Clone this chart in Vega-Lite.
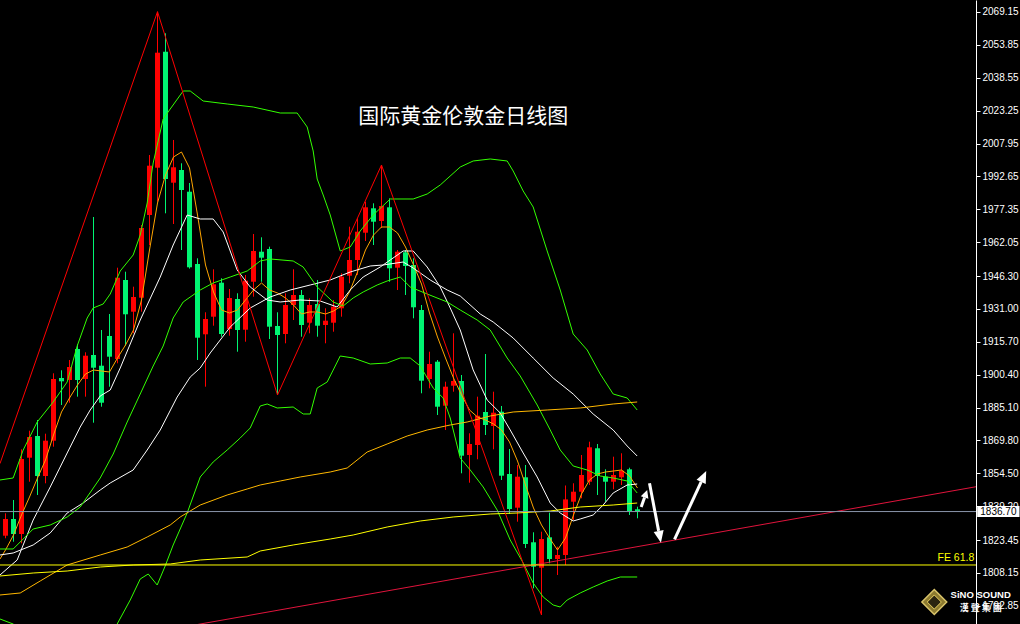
{
"$schema": "https://vega.github.io/schema/vega-lite/v6.json",
"width": 976, "height": 624,
"autosize": "none",
"padding": {"left": 0, "top": 0, "right": 44, "bottom": 0},
"background": "#000000",
"config": {"view": {"stroke": null}, "axis": {"grid": false}, "scale": {"continuousPadding": 0}},
"resolve": {"axis": {"y": "independent", "x": "independent"}},
"datasets": {
"candles": [
{"i":0,"o":1825.47,"h":1835.89,"l":1824.26,"c":1833.24},
{"i":1,"o":1833.24,"h":1842.08,"l":1822.68,"c":1826.26},
{"i":2,"o":1826.26,"h":1865.67,"l":1821.93,"c":1861.16},
{"i":3,"o":1861.76,"h":1874.32,"l":1850.59,"c":1871.39},
{"i":4,"o":1871.86,"h":1879.30,"l":1844.41,"c":1853.25},
{"i":5,"o":1853.25,"h":1872.93,"l":1849.85,"c":1869.67},
{"i":6,"o":1869.67,"h":1901.03,"l":1866.88,"c":1898.38},
{"i":7,"o":1898.85,"h":1902.43,"l":1886.28,"c":1897.31},
{"i":8,"o":1897.92,"h":1907.22,"l":1887.35,"c":1903.96},
{"i":9,"o":1912.34,"h":1914.53,"l":1890.15,"c":1897.92},
{"i":10,"o":1898.38,"h":1910.81,"l":1890.15,"c":1909.22},
{"i":11,"o":1909.55,"h":1973.76,"l":1878.05,"c":1903.64},
{"i":12,"o":1904.57,"h":1921.18,"l":1885.49,"c":1887.35},
{"i":13,"o":1918.39,"h":1928.63,"l":1894.80,"c":1908.76},
{"i":14,"o":1907.69,"h":1950.17,"l":1905.69,"c":1945.52},
{"i":15,"o":1944.45,"h":1948.31,"l":1913.88,"c":1928.49},
{"i":16,"o":1929.70,"h":1941.33,"l":1919.65,"c":1936.54},
{"i":17,"o":1936.21,"h":1970.04,"l":1929.70,"c":1968.64},
{"i":18,"o":1974.69,"h":2002.61,"l":1960.73,"c":1997.63},
{"i":19,"o":1996.70,"h":2069.29,"l":1980.88,"c":2050.21},
{"i":20,"o":2050.67,"h":2059.24,"l":1975.48,"c":1991.44},
{"i":21,"o":1989.72,"h":2009.59,"l":1970.50,"c":1996.89},
{"i":22,"o":1995.63,"h":1998.75,"l":1958.40,"c":1986.32},
{"i":23,"o":1985.53,"h":1989.58,"l":1949.75,"c":1950.36},
{"i":24,"o":1951.89,"h":1954.54,"l":1907.22,"c":1917.60},
{"i":25,"o":1919.18,"h":1929.42,"l":1894.80,"c":1926.30},
{"i":26,"o":1927.37,"h":1949.42,"l":1923.18,"c":1942.45},
{"i":27,"o":1943.19,"h":1945.24,"l":1918.06,"c":1919.32},
{"i":28,"o":1921.65,"h":1940.26,"l":1918.53,"c":1936.07},
{"i":29,"o":1935.61,"h":1938.26,"l":1911.08,"c":1921.18},
{"i":30,"o":1921.32,"h":1946.77,"l":1915.74,"c":1944.12},
{"i":31,"o":1943.65,"h":1965.85,"l":1936.68,"c":1957.94},
{"i":32,"o":1957.61,"h":1964.31,"l":1943.65,"c":1954.82},
{"i":33,"o":1958.87,"h":1959.94,"l":1916.99,"c":1922.72},
{"i":34,"o":1923.04,"h":1929.42,"l":1890.94,"c":1918.85},
{"i":35,"o":1919.32,"h":1938.26,"l":1914.99,"c":1932.81},
{"i":36,"o":1932.81,"h":1949.42,"l":1925.83,"c":1937.47},
{"i":37,"o":1937.47,"h":1939.79,"l":1918.06,"c":1923.51},
{"i":38,"o":1924.58,"h":1935.93,"l":1919.65,"c":1932.81},
{"i":39,"o":1933.28,"h":1944.45,"l":1918.06,"c":1923.18},
{"i":40,"o":1923.51,"h":1931.28,"l":1914.99,"c":1925.51},
{"i":41,"o":1924.58,"h":1935.14,"l":1920.39,"c":1932.02},
{"i":42,"o":1931.28,"h":1947.56,"l":1927.37,"c":1945.98},
{"i":43,"o":1946.45,"h":1969.25,"l":1942.91,"c":1953.75},
{"i":44,"o":1953.75,"h":1973.15,"l":1946.77,"c":1966.92},
{"i":45,"o":1966.45,"h":1980.88,"l":1962.59,"c":1978.27},
{"i":46,"o":1977.81,"h":1980.13,"l":1960.73,"c":1971.57},
{"i":47,"o":1971.90,"h":1997.96,"l":1968.64,"c":1978.88},
{"i":48,"o":1978.27,"h":1982.46,"l":1943.65,"c":1949.89},
{"i":49,"o":1950.17,"h":1958.40,"l":1939.79,"c":1957.61},
{"i":50,"o":1957.34,"h":1958.40,"l":1937.47,"c":1950.96},
{"i":51,"o":1951.43,"h":1954.54,"l":1926.62,"c":1931.74},
{"i":52,"o":1930.49,"h":1932.81,"l":1891.73,"c":1897.59},
{"i":53,"o":1898.38,"h":1911.08,"l":1894.05,"c":1905.36},
{"i":54,"o":1906.43,"h":1907.22,"l":1881.63,"c":1885.49},
{"i":55,"o":1885.96,"h":1897.12,"l":1874.65,"c":1894.80},
{"i":56,"o":1895.26,"h":1919.65,"l":1892.47,"c":1897.45},
{"i":57,"o":1897.45,"h":1900.24,"l":1854.50,"c":1862.69},
{"i":58,"o":1863.02,"h":1873.12,"l":1850.13,"c":1868.14},
{"i":59,"o":1867.67,"h":1890.15,"l":1861.02,"c":1881.30},
{"i":60,"o":1883.03,"h":1910.01,"l":1872.32,"c":1876.98},
{"i":61,"o":1876.51,"h":1892.47,"l":1865.67,"c":1882.70},
{"i":62,"o":1883.17,"h":1885.82,"l":1851.39,"c":1853.39},
{"i":63,"o":1854.18,"h":1865.81,"l":1835.57,"c":1837.89},
{"i":64,"o":1838.50,"h":1858.37,"l":1831.98,"c":1852.92},
{"i":65,"o":1852.64,"h":1858.37,"l":1819.75,"c":1821.61},
{"i":66,"o":1822.40,"h":1827.05,"l":1800.99,"c":1811.04},
{"i":67,"o":1810.58,"h":1827.33,"l":1788.57,"c":1823.93},
{"i":68,"o":1824.72,"h":1836.17,"l":1812.63,"c":1814.63},
{"i":69,"o":1814.63,"h":1820.35,"l":1807.18,"c":1816.49},
{"i":70,"o":1816.49,"h":1848.83,"l":1811.84,"c":1842.36},
{"i":71,"o":1841.29,"h":1849.85,"l":1832.77,"c":1845.94},
{"i":72,"o":1845.94,"h":1863.02,"l":1842.87,"c":1853.71},
{"i":73,"o":1850.59,"h":1869.21,"l":1849.06,"c":1866.60},
{"i":74,"o":1866.14,"h":1868.14,"l":1844.41,"c":1853.25},
{"i":75,"o":1852.92,"h":1856.36,"l":1841.29,"c":1850.59},
{"i":76,"o":1850.59,"h":1862.23,"l":1847.06,"c":1853.71},
{"i":77,"o":1852.64,"h":1863.81,"l":1849.06,"c":1855.71},
{"i":78,"o":1856.36,"h":1857.11,"l":1835.10,"c":1836.96},
{"i":79,"o":1837.75,"h":1838.96,"l":1833.56,"c":1836.70}
],
"lines": [
{"s":"ma5","i":-0.69,"p":1814.63},{"s":"ma5","i":0,"p":1818.81},{"s":"ma5","i":1,"p":1825.79},{"s":"ma5","i":2,"p":1835.10},{"s":"ma5","i":3,"p":1843.48},{"s":"ma5","i":4,"p":1852.32},{"s":"ma5","i":5,"p":1860.69},{"s":"ma5","i":6,"p":1872.32},{"s":"ma5","i":7,"p":1883.03},{"s":"ma5","i":8,"p":1889.54},{"s":"ma5","i":9,"p":1895.59},{"s":"ma5","i":10,"p":1900.71},{"s":"ma5","i":11,"p":1902.57},{"s":"ma5","i":12,"p":1902.10},{"s":"ma5","i":13,"p":1901.64},{"s":"ma5","i":14,"p":1908.15},{"s":"ma5","i":15,"p":1914.20},{"s":"ma5","i":16,"p":1921.18},{"s":"ma5","i":17,"p":1935.14},{"s":"ma5","i":18,"p":1958.40},{"s":"ma5","i":19,"p":1980.27},{"s":"ma5","i":20,"p":1993.30},{"s":"ma5","i":21,"p":2001.68},{"s":"ma5","i":22,"p":2004.00},{"s":"ma5","i":23,"p":1996.56},{"s":"ma5","i":24,"p":1974.69},{"s":"ma5","i":25,"p":1951.43},{"s":"ma5","i":26,"p":1938.86},{"s":"ma5","i":27,"p":1930.49},{"s":"ma5","i":28,"p":1929.09},{"s":"ma5","i":29,"p":1930.49},{"s":"ma5","i":30,"p":1935.14},{"s":"ma5","i":31,"p":1939.79},{"s":"ma5","i":32,"p":1943.05},{"s":"ma5","i":33,"p":1939.79},{"s":"ma5","i":34,"p":1938.40},{"s":"ma5","i":35,"p":1936.07},{"s":"ma5","i":36,"p":1932.81},{"s":"ma5","i":37,"p":1928.63},{"s":"ma5","i":38,"p":1929.56},{"s":"ma5","i":39,"p":1929.56},{"s":"ma5","i":40,"p":1928.63},{"s":"ma5","i":41,"p":1930.02},{"s":"ma5","i":42,"p":1932.35},{"s":"ma5","i":43,"p":1938.86},{"s":"ma5","i":44,"p":1948.17},{"s":"ma5","i":45,"p":1958.40},{"s":"ma5","i":46,"p":1965.38},{"s":"ma5","i":47,"p":1969.11},{"s":"ma5","i":48,"p":1969.11},{"s":"ma5","i":49,"p":1966.32},{"s":"ma5","i":50,"p":1959.80},{"s":"ma5","i":51,"p":1951.43},{"s":"ma5","i":52,"p":1942.58},{"s":"ma5","i":53,"p":1929.09},{"s":"ma5","i":54,"p":1917.92},{"s":"ma5","i":55,"p":1908.15},{"s":"ma5","i":56,"p":1898.85},{"s":"ma5","i":57,"p":1890.94},{"s":"ma5","i":58,"p":1883.96},{"s":"ma5","i":59,"p":1880.70},{"s":"ma5","i":60,"p":1879.30},{"s":"ma5","i":61,"p":1877.44},{"s":"ma5","i":62,"p":1874.65},{"s":"ma5","i":63,"p":1869.07},{"s":"ma5","i":64,"p":1860.23},{"s":"ma5","i":65,"p":1849.06},{"s":"ma5","i":66,"p":1838.36},{"s":"ma5","i":67,"p":1830.45},{"s":"ma5","i":68,"p":1824.40},{"s":"ma5","i":69,"p":1818.81},{"s":"ma5","i":70,"p":1824.40},{"s":"ma5","i":71,"p":1835.10},{"s":"ma5","i":72,"p":1844.87},{"s":"ma5","i":73,"p":1851.39},{"s":"ma5","i":74,"p":1854.18},{"s":"ma5","i":75,"p":1855.11},{"s":"ma5","i":76,"p":1855.57},{"s":"ma5","i":77,"p":1856.04},{"s":"ma5","i":78,"p":1853.25},{"s":"ma5","i":79,"p":1847.66},
{"s":"ma10","i":-0.69,"p":1807.18},{"s":"ma10","i":1.46,"p":1814.16},{"s":"ma10","i":3.46,"p":1832.77},{"s":"ma10","i":5.59,"p":1848.13},{"s":"ma10","i":7.71,"p":1863.95},{"s":"ma10","i":9.34,"p":1876.05},{"s":"ma10","i":10.59,"p":1883.96},{"s":"ma10","i":11.84,"p":1890.47},{"s":"ma10","i":13.09,"p":1893.26},{"s":"ma10","i":14.34,"p":1903.50},{"s":"ma10","i":16.84,"p":1925.83},{"s":"ma10","i":19.34,"p":1945.84},{"s":"ma10","i":20.96,"p":1960.73},{"s":"ma10","i":22.71,"p":1974.69},{"s":"ma10","i":24.34,"p":1972.83},{"s":"ma10","i":25.96,"p":1972.83},{"s":"ma10","i":27.21,"p":1966.78},{"s":"ma10","i":28.96,"p":1949.10},{"s":"ma10","i":30.59,"p":1941.19},{"s":"ma10","i":32.71,"p":1935.14},{"s":"ma10","i":34.34,"p":1934.21},{"s":"ma10","i":36.84,"p":1935.14},{"s":"ma10","i":39.34,"p":1934.67},{"s":"ma10","i":41.46,"p":1931.88},{"s":"ma10","i":43.09,"p":1939.79},{"s":"ma10","i":44.71,"p":1945.84},{"s":"ma10","i":46.84,"p":1950.49},{"s":"ma10","i":48.09,"p":1953.75},{"s":"ma10","i":49.71,"p":1957.94},{"s":"ma10","i":50.96,"p":1957.94},{"s":"ma10","i":52.71,"p":1950.49},{"s":"ma10","i":54.34,"p":1941.19},{"s":"ma10","i":55.59,"p":1931.42},{"s":"ma10","i":56.84,"p":1921.18},{"s":"ma10","i":58.46,"p":1902.57},{"s":"ma10","i":60.21,"p":1888.61},{"s":"ma10","i":61.84,"p":1882.56},{"s":"ma10","i":63.09,"p":1874.65},{"s":"ma10","i":64.71,"p":1863.95},{"s":"ma10","i":66.46,"p":1852.78},{"s":"ma10","i":68.09,"p":1840.68},{"s":"ma10","i":69.34,"p":1836.03},{"s":"ma10","i":70.96,"p":1832.31},{"s":"ma10","i":71.84,"p":1833.24},{"s":"ma10","i":73.46,"p":1835.10},{"s":"ma10","i":74.71,"p":1839.75},{"s":"ma10","i":75.96,"p":1845.34},{"s":"ma10","i":77.71,"p":1849.06},{"s":"ma10","i":78.96,"p":1849.52},
{"s":"ma30","i":-0.69,"p":1816.49},{"s":"ma30","i":0.96,"p":1817.42},{"s":"ma30","i":3.46,"p":1821.14},{"s":"ma30","i":5.59,"p":1826.73},{"s":"ma30","i":7.71,"p":1836.03},{"s":"ma30","i":9.71,"p":1840.68},{"s":"ma30","i":11.84,"p":1846.73},{"s":"ma30","i":13.09,"p":1849.99},{"s":"ma30","i":15.96,"p":1856.04},{"s":"ma30","i":17.71,"p":1865.34},{"s":"ma30","i":19.34,"p":1874.65},{"s":"ma30","i":21.46,"p":1890.01},{"s":"ma30","i":23.09,"p":1899.31},{"s":"ma30","i":24.34,"p":1903.50},{"s":"ma30","i":25.59,"p":1910.48},{"s":"ma30","i":28.09,"p":1922.58},{"s":"ma30","i":30.59,"p":1931.42},{"s":"ma30","i":33.09,"p":1936.54},{"s":"ma30","i":35.59,"p":1939.79},{"s":"ma30","i":38.09,"p":1942.12},{"s":"ma30","i":40.59,"p":1944.45},{"s":"ma30","i":43.09,"p":1948.17},{"s":"ma30","i":45.59,"p":1950.96},{"s":"ma30","i":47.21,"p":1951.43},{"s":"ma30","i":49.71,"p":1952.82},{"s":"ma30","i":50.96,"p":1950.03},{"s":"ma30","i":53.09,"p":1944.45},{"s":"ma30","i":55.21,"p":1939.79},{"s":"ma30","i":56.84,"p":1937.00},{"s":"ma30","i":59.34,"p":1928.63},{"s":"ma30","i":60.96,"p":1924.90},{"s":"ma30","i":63.46,"p":1917.46},{"s":"ma30","i":65.96,"p":1908.15},{"s":"ma30","i":68.46,"p":1898.85},{"s":"ma30","i":70.96,"p":1891.40},{"s":"ma30","i":73.46,"p":1882.10},{"s":"ma30","i":75.96,"p":1874.65},{"s":"ma30","i":77.71,"p":1867.21},{"s":"ma30","i":78.96,"p":1862.55},
{"s":"bbu","i":-0.69,"p":1851.39},{"s":"bbu","i":0.96,"p":1852.32},{"s":"bbu","i":2.21,"p":1865.34},{"s":"bbu","i":3.96,"p":1878.37},{"s":"bbu","i":5.96,"p":1887.68},{"s":"bbu","i":7.71,"p":1896.99},{"s":"bbu","i":8.96,"p":1913.74},{"s":"bbu","i":10.21,"p":1926.76},{"s":"bbu","i":10.96,"p":1931.42},{"s":"bbu","i":12.21,"p":1933.28},{"s":"bbu","i":13.09,"p":1937.93},{"s":"bbu","i":14.34,"p":1948.63},{"s":"bbu","i":15.96,"p":1956.08},{"s":"bbu","i":16.84,"p":1965.38},{"s":"bbu","i":17.71,"p":1980.27},{"s":"bbu","i":18.46,"p":1998.89},{"s":"bbu","i":19.71,"p":2019.36},{"s":"bbu","i":20.59,"p":2024.01},{"s":"bbu","i":22.21,"p":2032.39},{"s":"bbu","i":23.09,"p":2032.39},{"s":"bbu","i":24.71,"p":2027.73},{"s":"bbu","i":27.71,"p":2026.34},{"s":"bbu","i":30.96,"p":2024.94},{"s":"bbu","i":34.34,"p":2022.15},{"s":"bbu","i":36.46,"p":2022.15},{"s":"bbu","i":37.71,"p":2015.64},{"s":"bbu","i":38.46,"p":2004.47},{"s":"bbu","i":38.96,"p":1991.44},{"s":"bbu","i":39.71,"p":1984.00},{"s":"bbu","i":40.59,"p":1974.69},{"s":"bbu","i":41.84,"p":1957.94},{"s":"bbu","i":43.09,"p":1959.80},{"s":"bbu","i":44.34,"p":1967.25},{"s":"bbu","i":45.96,"p":1974.69},{"s":"bbu","i":48.09,"p":1982.14},{"s":"bbu","i":50.96,"p":1982.14},{"s":"bbu","i":52.71,"p":1984.46},{"s":"bbu","i":54.34,"p":1988.65},{"s":"bbu","i":56.84,"p":1997.02},{"s":"bbu","i":58.46,"p":1999.82},{"s":"bbu","i":60.59,"p":2000.75},{"s":"bbu","i":62.71,"p":1999.82},{"s":"bbu","i":63.46,"p":1995.16},{"s":"bbu","i":64.71,"p":1985.86},{"s":"bbu","i":65.96,"p":1978.41},{"s":"bbu","i":67.71,"p":1957.94},{"s":"bbu","i":69.34,"p":1939.79},{"s":"bbu","i":70.96,"p":1919.32},{"s":"bbu","i":72.71,"p":1911.87},{"s":"bbu","i":74.34,"p":1900.71},{"s":"bbu","i":75.96,"p":1891.40},{"s":"bbu","i":77.71,"p":1889.54},{"s":"bbu","i":78.96,"p":1883.96},
{"s":"bbm","i":-0.69,"p":1819.28},{"s":"bbm","i":0.96,"p":1819.28},{"s":"bbm","i":3.46,"p":1828.59},{"s":"bbm","i":5.59,"p":1830.45},{"s":"bbm","i":7.71,"p":1834.17},{"s":"bbm","i":9.34,"p":1838.82},{"s":"bbm","i":11.84,"p":1852.32},{"s":"bbm","i":13.46,"p":1863.48},{"s":"bbm","i":15.21,"p":1878.37},{"s":"bbm","i":16.84,"p":1891.40},{"s":"bbm","i":18.46,"p":1904.43},{"s":"bbm","i":19.71,"p":1913.74},{"s":"bbm","i":20.96,"p":1926.76},{"s":"bbm","i":22.21,"p":1934.21},{"s":"bbm","i":24.34,"p":1939.79},{"s":"bbm","i":25.96,"p":1943.05},{"s":"bbm","i":28.09,"p":1945.84},{"s":"bbm","i":30.21,"p":1948.63},{"s":"bbm","i":31.84,"p":1953.29},{"s":"bbm","i":33.09,"p":1954.22},{"s":"bbm","i":35.96,"p":1953.29},{"s":"bbm","i":37.21,"p":1950.49},{"s":"bbm","i":38.96,"p":1941.19},{"s":"bbm","i":40.96,"p":1934.21},{"s":"bbm","i":42.21,"p":1932.35},{"s":"bbm","i":43.46,"p":1936.07},{"s":"bbm","i":44.71,"p":1938.86},{"s":"bbm","i":46.46,"p":1942.12},{"s":"bbm","i":47.71,"p":1943.98},{"s":"bbm","i":49.34,"p":1945.84},{"s":"bbm","i":50.59,"p":1941.19},{"s":"bbm","i":52.71,"p":1937.93},{"s":"bbm","i":55.21,"p":1934.21},{"s":"bbm","i":56.84,"p":1930.49},{"s":"bbm","i":58.96,"p":1925.83},{"s":"bbm","i":60.59,"p":1921.18},{"s":"bbm","i":62.71,"p":1908.15},{"s":"bbm","i":64.34,"p":1899.78},{"s":"bbm","i":66.46,"p":1886.28},{"s":"bbm","i":68.09,"p":1874.65},{"s":"bbm","i":69.34,"p":1865.34},{"s":"bbm","i":70.96,"p":1857.90},{"s":"bbm","i":72.71,"p":1856.04},{"s":"bbm","i":74.34,"p":1853.25},{"s":"bbm","i":75.96,"p":1852.32},{"s":"bbm","i":77.71,"p":1850.92},{"s":"bbm","i":78.96,"p":1845.34},
{"s":"bbl","i":-0.69,"p":1786.71},{"s":"bbl","i":0.96,"p":1784.38},{"s":"bbl","i":3.09,"p":1776.94},{"s":"bbl","i":5.59,"p":1773.22},{"s":"bbl","i":9.34,"p":1756.46},{"s":"bbl","i":11.84,"p":1772.28},{"s":"bbl","i":13.96,"p":1784.38},{"s":"bbl","i":15.59,"p":1795.55},{"s":"bbl","i":16.84,"p":1805.32},{"s":"bbl","i":17.84,"p":1807.65},{"s":"bbl","i":18.96,"p":1802.53},{"s":"bbl","i":19.96,"p":1811.37},{"s":"bbl","i":20.96,"p":1821.14},{"s":"bbl","i":22.71,"p":1836.03},{"s":"bbl","i":24.34,"p":1852.78},{"s":"bbl","i":25.96,"p":1859.76},{"s":"bbl","i":27.71,"p":1865.34},{"s":"bbl","i":29.34,"p":1870.93},{"s":"bbl","i":30.59,"p":1875.58},{"s":"bbl","i":31.84,"p":1885.82},{"s":"bbl","i":32.71,"p":1886.75},{"s":"bbl","i":33.96,"p":1884.89},{"s":"bbl","i":35.96,"p":1885.35},{"s":"bbl","i":37.21,"p":1882.10},{"s":"bbl","i":38.09,"p":1882.10},{"s":"bbl","i":38.96,"p":1894.19},{"s":"bbl","i":40.21,"p":1896.99},{"s":"bbl","i":41.84,"p":1909.08},{"s":"bbl","i":43.46,"p":1908.15},{"s":"bbl","i":45.59,"p":1905.36},{"s":"bbl","i":47.71,"p":1905.83},{"s":"bbl","i":49.34,"p":1908.15},{"s":"bbl","i":50.59,"p":1908.15},{"s":"bbl","i":51.84,"p":1904.43},{"s":"bbl","i":53.46,"p":1894.19},{"s":"bbl","i":54.71,"p":1889.54},{"s":"bbl","i":55.59,"p":1880.23},{"s":"bbl","i":56.84,"p":1861.62},{"s":"bbl","i":58.09,"p":1856.04},{"s":"bbl","i":59.71,"p":1848.13},{"s":"bbl","i":61.46,"p":1837.43},{"s":"bbl","i":63.09,"p":1823.47},{"s":"bbl","i":64.71,"p":1812.77},{"s":"bbl","i":65.96,"p":1803.46},{"s":"bbl","i":67.21,"p":1796.95},{"s":"bbl","i":68.46,"p":1793.22},{"s":"bbl","i":69.34,"p":1792.29},{"s":"bbl","i":70.21,"p":1795.55},{"s":"bbl","i":71.84,"p":1798.81},{"s":"bbl","i":73.46,"p":1801.60},{"s":"bbl","i":75.21,"p":1804.39},{"s":"bbl","i":76.84,"p":1806.25},{"s":"bbl","i":78.96,"p":1806.25},
{"s":"ma60","i":-0.69,"p":1797.88},{"s":"ma60","i":1.84,"p":1798.81},{"s":"ma60","i":4.34,"p":1804.39},{"s":"ma60","i":7.71,"p":1811.84},{"s":"ma60","i":11.84,"p":1816.49},{"s":"ma60","i":15.21,"p":1820.21},{"s":"ma60","i":17.71,"p":1824.86},{"s":"ma60","i":20.59,"p":1830.45},{"s":"ma60","i":21.84,"p":1834.17},{"s":"ma60","i":24.34,"p":1839.75},{"s":"ma60","i":27.71,"p":1844.41},{"s":"ma60","i":30.21,"p":1847.20},{"s":"ma60","i":31.84,"p":1849.06},{"s":"ma60","i":34.34,"p":1850.92},{"s":"ma60","i":36.84,"p":1852.78},{"s":"ma60","i":40.59,"p":1855.11},{"s":"ma60","i":42.71,"p":1856.97},{"s":"ma60","i":45.21,"p":1864.41},{"s":"ma60","i":47.71,"p":1868.14},{"s":"ma60","i":50.21,"p":1871.86},{"s":"ma60","i":52.71,"p":1874.65},{"s":"ma60","i":55.59,"p":1876.98},{"s":"ma60","i":57.71,"p":1878.37},{"s":"ma60","i":60.59,"p":1881.17},{"s":"ma60","i":63.46,"p":1883.03},{"s":"ma60","i":67.71,"p":1883.96},{"s":"ma60","i":71.84,"p":1884.89},{"s":"ma60","i":75.96,"p":1886.75},{"s":"ma60","i":78.96,"p":1887.68},
{"s":"ma120","i":-0.69,"p":1806.72},{"s":"ma120","i":3.46,"p":1808.11},{"s":"ma120","i":7.71,"p":1809.04},{"s":"ma120","i":11.84,"p":1810.90},{"s":"ma120","i":15.96,"p":1811.84},{"s":"ma120","i":20.59,"p":1812.30},{"s":"ma120","i":24.34,"p":1814.16},{"s":"ma120","i":30.21,"p":1815.56},{"s":"ma120","i":31.84,"p":1818.35},{"s":"ma120","i":35.96,"p":1821.14},{"s":"ma120","i":40.59,"p":1823.93},{"s":"ma120","i":43.46,"p":1825.79},{"s":"ma120","i":47.71,"p":1829.52},{"s":"ma120","i":51.84,"p":1832.31},{"s":"ma120","i":55.96,"p":1834.17},{"s":"ma120","i":60.59,"p":1835.57},{"s":"ma120","i":63.96,"p":1836.03},{"s":"ma120","i":68.09,"p":1836.96},{"s":"ma120","i":71.84,"p":1838.82},{"s":"ma120","i":75.96,"p":1839.75},{"s":"ma120","i":78.96,"p":1840.68},
{"s":"zig","i":-0.69,"p":1859.02},{"s":"zig","i":19,"p":2069.29},{"s":"zig","i":34,"p":1890.94},{"s":"zig","i":47,"p":1997.96},{"s":"zig","i":67,"p":1788.57},
{"s":"trend","i":20,"p":1781.52},{"s":"trend","i":121.31,"p":1848.25},
{"s":"fe","i":-0.69,"p":1811.84},{"s":"fe","i":121.31,"p":1811.84},
{"s":"cur","i":-0.69,"p":1836.70},{"s":"cur","i":121.31,"p":1836.70}
],
"arrows": [
{"a":"s","i":79.46,"p":1838.82},{"a":"s","i":79.88,"p":1843.24},
{"a":"d","i":80.5,"p":1849.85},{"a":"d","i":81.64,"p":1827.70},
{"a":"u","i":83.63,"p":1823.79},{"a":"u","i":86.96,"p":1850.50}
],
"heads": [
{"a":"s","i":80.21,"p":1846.73},
{"a":"d","i":81.93,"p":1822.21},
{"a":"u","i":87.59,"p":1855.57}
],
"labels": [
{"t":"国际黄金伦敦金日线图","i":57.21,"p":2020.29}
],
"price": [{"p":1836.70,"t":"1836.70"}]
},
"layer": [
{
"data": {"name": "candles"},
"mark": {"type": "rule", "strokeWidth": 1},
"encoding": {
"x": {"field": "i", "type": "quantitative", "scale": {"domain": [-0.6875, 121.3125], "nice": false, "zero": false, "padding": 0}, "axis": null},
"y": {"field": "l", "type": "quantitative", "scale": {"domain": [1784.38, 2074.73], "nice": false, "zero": false, "padding": 0},
 "axis": {"orient": "right", "values": [2069.15,2053.85,2038.55,2023.25,2007.95,1992.65,1977.35,1962.05,1946.30,1931.00,1915.70,1900.40,1885.10,1869.80,1854.50,1839.20,1823.45,1808.15,1792.85], "format": ".2f", "title": null, "labelColor": "#ffffff", "labelFont": "Liberation Sans", "labelFontSize": 10, "tickColor": "#ffffff", "tickSize": 4, "domainColor": "#ffffff", "labelPadding": 2, "grid": false, "labelOverlap": false, "labelBound": false, "labelFlush": false, "labelBaseline": "middle"}},
"y2": {"field": "h"},
"color": {"condition": {"test": "datum.c >= datum.o", "value": "#ff0000"}, "value": "#00f572"}
}
},
{
"data": {"name": "candles"},
"mark": {"type": "bar", "size": 5},
"encoding": {
"x": {"field": "i", "type": "quantitative", "scale": {"domain": [-0.6875, 121.3125], "nice": false, "zero": false, "padding": 0}, "axis": null},
"y": {"field": "o", "type": "quantitative", "scale": {"domain": [1784.38, 2074.73], "nice": false, "zero": false, "padding": 0}, "axis": null},
"y2": {"field": "c"},
"color": {"condition": {"test": "datum.c >= datum.o", "value": "#ff0000"}, "value": "#00f572"}
}
},
{
"data": {"name": "lines"},
"mark": {"type": "line", "strokeWidth": 1, "clip": true, "interpolate": "linear"},
"encoding": {
"x": {"field": "i", "type": "quantitative", "scale": {"domain": [-0.6875, 121.3125], "nice": false, "zero": false, "padding": 0}, "axis": null},
"y": {"field": "p", "type": "quantitative", "scale": {"domain": [1784.38, 2074.73], "nice": false, "zero": false, "padding": 0}, "axis": null},
"color": {"field": "s", "type": "nominal", "legend": null,
 "scale": {"domain": ["ma120","ma60","bbu","bbm","bbl","ma30","ma10","ma5","fe","cur","trend","zig"],
 "range": ["#ffff00","#ffb800","#33ff00","#33ff00","#33ff00","#ffffff","#ffffff","#ffa500","#ffff00","#8a96aa","#e0143c","#ff0000"]}},
"order": {"field": "i", "type": "quantitative"}
}
},
{
"data": {"name": "arrows"},
"mark": {"type": "line", "strokeWidth": 3, "color": "#ffffff", "strokeCap": "butt"},
"encoding": {
"x": {"field": "i", "type": "quantitative", "scale": {"domain": [-0.6875, 121.3125], "nice": false, "zero": false, "padding": 0}, "axis": null},
"y": {"field": "p", "type": "quantitative", "scale": {"domain": [1784.38, 2074.73], "nice": false, "zero": false, "padding": 0}, "axis": null},
"detail": {"field": "a", "type": "nominal"}
}
},
{
"data": {"name": "heads"},
"transform": [{"filter": "datum.a == 'd'"}],
"mark": {"type": "point", "filled": true, "opacity": 1, "color": "#ffffff", "shape": "M0,0L0.42,1L-0.42,1Z", "size": 576, "angle": 169},
"encoding": {
"x": {"field": "i", "type": "quantitative", "scale": {"domain": [-0.6875, 121.3125], "nice": false, "zero": false, "padding": 0}, "axis": null},
"y": {"field": "p", "type": "quantitative", "scale": {"domain": [1784.38, 2074.73], "nice": false, "zero": false, "padding": 0}, "axis": null}
}
},
{
"data": {"name": "heads"},
"transform": [{"filter": "datum.a == 'u'"}],
"mark": {"type": "point", "filled": true, "opacity": 1, "color": "#ffffff", "shape": "M0,0L0.42,1L-0.42,1Z", "size": 576, "angle": 25},
"encoding": {
"x": {"field": "i", "type": "quantitative", "scale": {"domain": [-0.6875, 121.3125], "nice": false, "zero": false, "padding": 0}, "axis": null},
"y": {"field": "p", "type": "quantitative", "scale": {"domain": [1784.38, 2074.73], "nice": false, "zero": false, "padding": 0}, "axis": null}
}
},
{
"data": {"name": "heads"},
"transform": [{"filter": "datum.a == 's'"}],
"mark": {"type": "point", "filled": true, "opacity": 1, "color": "#ffffff", "shape": "M0,0L0.5,1L-0.5,1Z", "size": 256, "angle": 19},
"encoding": {
"x": {"field": "i", "type": "quantitative", "scale": {"domain": [-0.6875, 121.3125], "nice": false, "zero": false, "padding": 0}, "axis": null},
"y": {"field": "p", "type": "quantitative", "scale": {"domain": [1784.38, 2074.73], "nice": false, "zero": false, "padding": 0}, "axis": null}
}
},
{
"data": {"name": "labels"},
"mark": {"type": "text", "color": "#ffffff", "font": "Noto Sans CJK SC", "fontSize": 21, "align": "center", "baseline": "middle"},
"encoding": {
"x": {"field": "i", "type": "quantitative", "scale": {"domain": [-0.6875, 121.3125], "nice": false, "zero": false, "padding": 0}, "axis": null},
"y": {"field": "p", "type": "quantitative", "scale": {"domain": [1784.38, 2074.73], "nice": false, "zero": false, "padding": 0}, "axis": null},
"text": {"field": "t"}
}
},
{
"data": {"values": [{"t": "FE 61.8"}]},
"mark": {"type": "text", "color": "#ffff00", "font": "Liberation Sans", "fontSize": 10.5, "align": "right", "baseline": "middle"},
"encoding": {
"x": {"datum": 121.1, "type": "quantitative", "scale": {"domain": [-0.6875, 121.3125], "nice": false, "zero": false, "padding": 0}, "axis": null},
"y": {"datum": 1815.1, "type": "quantitative", "scale": {"domain": [1784.38, 2074.73], "nice": false, "zero": false, "padding": 0}, "axis": null},
"text": {"field": "t"}
}
},
{
"data": {"name": "price"},
"mark": {"type": "rect", "color": "#ffffff", "yOffset": -5.5, "y2Offset": 5.5},
"encoding": {
"x": {"datum": 121.46, "type": "quantitative", "scale": {"domain": [-0.6875, 121.3125], "nice": false, "zero": false, "padding": 0}, "axis": null},
"x2": {"datum": 126.75},
"y": {"field": "p", "type": "quantitative", "scale": {"domain": [1784.38, 2074.73], "nice": false, "zero": false, "padding": 0}, "axis": null},
"y2": {"field": "p"}
}
},
{
"data": {"name": "price"},
"mark": {"type": "text", "color": "#000000", "font": "Liberation Sans", "fontSize": 10, "align": "left", "baseline": "middle"},
"encoding": {
"x": {"datum": 121.85, "type": "quantitative", "scale": {"domain": [-0.6875, 121.3125], "nice": false, "zero": false, "padding": 0}, "axis": null},
"y": {"field": "p", "type": "quantitative", "scale": {"domain": [1784.38, 2074.73], "nice": false, "zero": false, "padding": 0}, "axis": null},
"text": {"field": "t"}
}
},
{
"data": {"values": [{"t": "logo"}]},
"mark": {"type": "point", "shape": "diamond", "filled": true, "opacity": 1, "color": "#8c7a30", "stroke": "#d9c46a", "strokeWidth": 1.5, "size": 620},
"encoding": {
"x": {"datum": 116.1, "type": "quantitative", "scale": {"domain": [-0.6875, 121.3125], "nice": false, "zero": false, "padding": 0}, "axis": null},
"y": {"datum": 1794.6, "type": "quantitative", "scale": {"domain": [1784.38, 2074.73], "nice": false, "zero": false, "padding": 0}, "axis": null}
}
},
{
"data": {"values": [{"t": "logo"}]},
"mark": {"type": "point", "shape": "diamond", "filled": true, "opacity": 1, "color": "#2a2410", "stroke": "#e8d060", "strokeWidth": 1, "size": 200},
"encoding": {
"x": {"datum": 116.1, "type": "quantitative", "scale": {"domain": [-0.6875, 121.3125], "nice": false, "zero": false, "padding": 0}, "axis": null},
"y": {"datum": 1794.6, "type": "quantitative", "scale": {"domain": [1784.38, 2074.73], "nice": false, "zero": false, "padding": 0}, "axis": null}
}
},
{
"data": {"values": [{"t": "SiNO SOUND"}]},
"mark": {"type": "text", "color": "#ffffff", "font": "Liberation Sans", "fontWeight": "bold", "fontSize": 9.5, "align": "center", "baseline": "middle"},
"encoding": {
"x": {"datum": 121.9, "type": "quantitative", "scale": {"domain": [-0.6875, 121.3125], "nice": false, "zero": false, "padding": 0}, "axis": null},
"y": {"datum": 1797.9, "type": "quantitative", "scale": {"domain": [1784.38, 2074.73], "nice": false, "zero": false, "padding": 0}, "axis": null},
"text": {"field": "t"}
}
},
{
"data": {"values": [{"t": "漢  聲  集  團"}]},
"mark": {"type": "text", "color": "#ffffff", "font": "Noto Sans CJK TC", "fontWeight": "bold", "fontSize": 9, "align": "center", "baseline": "middle"},
"encoding": {
"x": {"datum": 121.9, "type": "quantitative", "scale": {"domain": [-0.6875, 121.3125], "nice": false, "zero": false, "padding": 0}, "axis": null},
"y": {"datum": 1792.0, "type": "quantitative", "scale": {"domain": [1784.38, 2074.73], "nice": false, "zero": false, "padding": 0}, "axis": null},
"text": {"field": "t"}
}
}
]
}
